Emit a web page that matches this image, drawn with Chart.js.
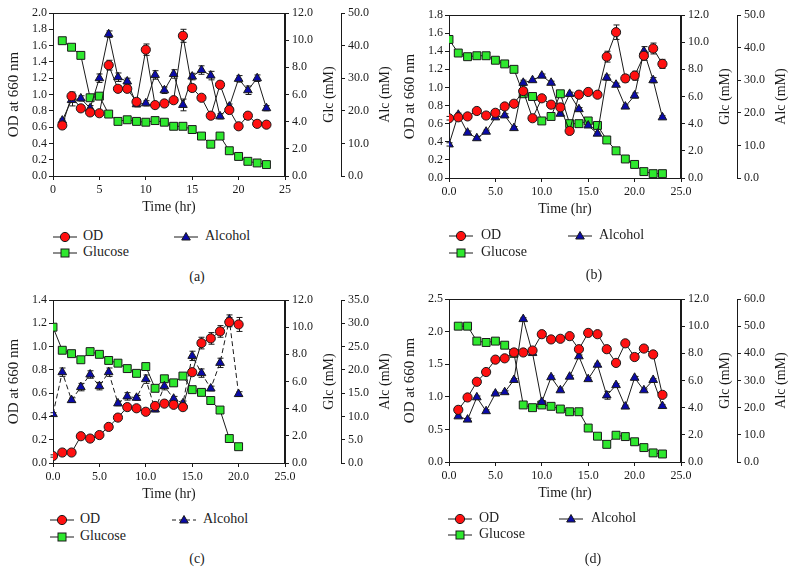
<!DOCTYPE html>
<html>
<head>
<meta charset="utf-8">
<script src="https://cdn.jsdelivr.net/npm/chart.js@4.4.0/dist/chart.umd.min.js"></script>
<style>
  body { margin: 0; background: #fff; width: 795px; height: 585px; position: relative; overflow: hidden;
         font-family: "Liberation Serif", "Times New Roman", serif; color: #222; }
  canvas { position: absolute; }
  .lg { position: absolute; font-size: 14px; line-height: 16px; white-space: nowrap; }
  .lg svg { position: absolute; }
  .cap { position: absolute; font-size: 14px; transform: translate(-50%, -50%); }
</style>
</head>
<body>
<canvas id="chart-a" width="397" height="220" style="left:0px;top:0px"></canvas>
<canvas id="chart-b" width="397" height="220" style="left:396px;top:2px"></canvas>
<canvas id="chart-c" width="397" height="220" style="left:0px;top:287px"></canvas>
<canvas id="chart-d" width="397" height="220" style="left:396px;top:286px"></canvas>
<div id="legends"></div>

<script>
// Panel (a)
const timeA = [1,2,3,4,5,6,7,8,9,10,11,12,13,14,15,16,17,18,19,20,21,22,23];
const odA = [0.62,0.98,0.83,0.78,0.77,1.36,1.07,1.07,0.91,1.55,0.87,0.89,0.93,1.72,1.08,0.96,0.74,1.12,0.81,0.61,0.74,0.64,0.63];
const glcA = [9.96,9.48,8.88,5.76,5.88,4.56,4.02,4.14,4.02,3.96,4.08,3.96,3.66,3.66,3.42,2.94,2.34,2.94,1.86,1.44,1.08,0.96,0.84];
const alcA = [17.0,23.3,23.8,20.8,30.0,43.5,30.3,29.0,22.0,22.3,31.0,26.3,31.3,21.8,30.5,32.5,30.8,18.3,21.3,29.8,26.3,30.0,20.8];
const odErrA = [0.02,0.05,0.03,0.03,0.02,0.06,0.04,0.04,0.03,0.07,0.03,0.03,0.03,0.08,0.04,0.03,0.03,0.04,0.03,0.02,0.03,0.02,0.02];
const alcErrA = [0.5,1.8,0.8,0.8,1.3,1.0,1.3,1.0,0.8,0.8,1.3,1.0,1.3,1.8,1.0,1.3,1.3,0.8,0.8,1.0,1.3,1.0,0.8];

// Panel (b)
const timeB = [0,1,2,3,4,5,6,7,8,9,10,11,12,13,14,15,16,17,18,19,20,21,22,23];
const odB = [0.66,0.67,0.68,0.74,0.69,0.72,0.79,0.82,0.96,0.66,0.88,0.81,0.78,0.52,0.92,0.95,0.92,1.34,1.61,1.10,1.13,1.35,1.43,1.26];
const glcB = [10.2,9.2,8.93,9.0,9.0,8.67,8.4,8.0,6.2,6.0,4.2,4.53,6.2,4.0,4.0,4.2,3.87,2.8,2.0,1.4,1.0,0.47,0.32,0.32];
const alcB = [10.3,19.4,13.9,12.2,14.2,18.6,19.2,15.3,29.2,30.0,31.4,29.2,19.7,25.8,21.1,16.1,13.6,30.8,28.6,21.9,25.3,38.9,30.0,18.6];
const odErrB = [0.02,0.02,0.02,0.02,0.02,0.02,0.02,0.02,0.04,0.02,0.02,0.02,0.02,0.02,0.02,0.02,0.02,0.06,0.08,0.04,0.05,0.05,0.06,0.05];
const alcErrB = [0.5,0.5,0.5,0.5,0.5,0.5,0.5,0.5,0.8,0.5,0.5,0.5,0.5,0.5,0.5,0.5,0.5,0.8,0.5,0.5,0.8,1.4,0.8,0.5];

// Panel (c)
const timeC = [0,1,2,3,4,5,6,7,8,9,10,11,12,13,14,15,16,17,18,19,20];
const odC = [0.06,0.09,0.09,0.23,0.21,0.24,0.31,0.39,0.48,0.47,0.44,0.49,0.51,0.50,0.48,0.78,1.03,1.07,1.13,1.21,1.19];
const glcC = [10.0,8.3,8.05,7.6,8.2,8.0,7.55,7.35,6.95,6.6,7.1,5.5,6.2,5.9,6.4,5.4,5.2,4.6,3.9,1.8,1.2];
const alcC = [10.5,19.5,13.5,16.3,19.0,16.5,19.5,12.8,14.3,14.0,18.0,11.5,16.5,13.8,12.8,23.0,19.3,16.0,21.5,30.8,14.8];
const odErrC = [0.01,0.01,0.01,0.01,0.01,0.01,0.01,0.01,0.01,0.01,0.01,0.02,0.01,0.01,0.01,0.02,0.05,0.05,0.05,0.04,0.06];
const alcErrC = [0.3,0.9,0.5,0.8,0.8,0.8,0.9,0.5,0.8,0.5,0.9,0.5,0.8,0.5,0.5,1.0,0.9,0.5,1.0,1.0,0.5];

// Panel (d)
const timeD = [1,2,3,4,5,6,7,8,9,10,11,12,13,14,15,16,17,18,19,20,21,22,23];
const odD = [0.80,0.99,1.23,1.38,1.57,1.59,1.68,1.68,1.71,1.96,1.88,1.89,1.93,1.73,1.98,1.96,1.73,1.52,1.82,1.61,1.74,1.65,1.03];
const glcD = [10.0,10.0,8.9,8.8,8.9,8.6,8.0,4.2,4.0,4.2,4.1,3.9,3.7,3.7,2.5,1.9,1.3,1.97,1.87,1.49,1.06,0.67,0.59];
const alcD = [16.8,15.6,23.8,18.7,25.2,25.7,30.2,52.6,40.1,22.1,31.2,26.4,31.4,38.9,30.5,35.8,24.5,28.3,20.4,31.0,26.4,30.2,20.6];
const alcErrD = [0.5,0.5,0.5,0.5,0.5,0.5,0.5,0.5,0.5,0.5,0.5,0.5,0.5,0.5,0.5,0.5,1.4,0.5,0.5,0.5,0.5,0.5,0.5];

// axis ranges: [min, max, step]
const odRange = { a: [0, 2.0, 0.2], b: [0, 1.8, 0.2], c: [0, 1.4, 0.2], d: [0, 2.5, 0.5] };
const alcRange = { a: [0, 50, 10], b: [0, 50, 10], c: [0, 35, 5], d: [0, 60, 10] };
const glcRange = [0, 12, 2];

const FONT = '"Liberation Serif", "Times New Roman", serif';
const RED = '#ff1010', GREEN = '#2ee82e', BLUE = '#0a0aa8', INK = '#1a1a1a';

function pts(xs, ys) { return xs.map((x, i) => ({ x: x, y: ys[i] })); }

// box around the plot area
const framePlugin = {
    id: 'frame',
    beforeDatasetsDraw(chart) {
        const a = chart.chartArea, ctx = chart.ctx;
        ctx.save();
        ctx.strokeStyle = INK;
        ctx.lineWidth = 1;
        ctx.strokeRect(Math.round(a.left) + 0.5, Math.round(a.top) + 0.5,
                       Math.round(a.right - a.left) - 1, Math.round(a.bottom - a.top));
        ctx.restore();
    }
};

// error bars, drawn under the markers
const errorBarPlugin = {
    id: 'errbars',
    beforeDatasetsDraw(chart) {
        const ctx = chart.ctx;
        ctx.save();
        ctx.strokeStyle = INK;
        ctx.lineWidth = 1;
        chart.data.datasets.forEach((ds, i) => {
            if (!ds.errors) return;
            const meta = chart.getDatasetMeta(i);
            const ys = chart.scales[meta.yAxisID];
            meta.data.forEach((el, j) => {
                const e = ds.errors[j];
                if (!e) return;
                const v = ds.data[j].y;
                const x = Math.round(el.x) + 0.5;
                const t = ys.getPixelForValue(v + e), b = ys.getPixelForValue(v - e);
                ctx.beginPath();
                ctx.moveTo(x, t); ctx.lineTo(x, b);
                ctx.moveTo(x - 3, t); ctx.lineTo(x + 3, t);
                ctx.moveTo(x - 3, b); ctx.lineTo(x + 3, b);
                ctx.stroke();
            });
        });
        ctx.restore();
    }
};

// right-hand titles read bottom to top
const sideTitlePlugin = {
    id: 'sideTitles',
    afterDraw(chart, args, opts) {
        const ctx = chart.ctx;
        ctx.save();
        ctx.fillStyle = INK;
        ctx.font = '14px ' + FONT;
        ctx.textAlign = 'center';
        ctx.textBaseline = 'middle';
        Object.keys(opts.titles || {}).forEach(id => {
            const s = chart.scales[id];
            const cy = (s.top + s.bottom) / 2;
            ctx.save();
            ctx.translate(s.right - 12, cy);
            ctx.rotate(-Math.PI / 2);
            ctx.fillText(opts.titles[id], 0, 0);
            ctx.restore();
        });
        ctx.restore();
    }
};

function axisBase(pos, width) {
    return {
        position: pos,
        grid: { drawOnChartArea: false, drawTicks: true, tickLength: 4, color: INK },
        border: { display: true, color: INK, width: 1 },
        ticks: { color: INK, font: { family: FONT, size: 12 }, padding: 3, autoSkip: false,
                 callback: v => Number(v).toFixed(1) },
        afterFit: s => { s.width = width; }
    };
}

function makePanel(id, key, time, od, glc, alc, errs, intTime, dashedAlc) {
    const y = axisBase('left', 53);
    y.min = odRange[key][0]; y.max = odRange[key][1]; y.ticks.stepSize = odRange[key][2];
    y.ticks.padding = 2;
    y.title = { display: true, text: 'OD at 660 nm', color: INK, font: { family: FONT, size: 15 }, padding: { top: 5, bottom: 0 } };

    const yGlc = axisBase('right', 56);
    yGlc.min = glcRange[0]; yGlc.max = glcRange[1]; yGlc.ticks.stepSize = glcRange[2];

    const yAlc = axisBase('right', 56);
    yAlc.min = alcRange[key][0]; yAlc.max = alcRange[key][1]; yAlc.ticks.stepSize = alcRange[key][2];

    const x = {
        type: 'linear', position: 'bottom', min: 0, max: 25,
        grid: { drawOnChartArea: false, drawTicks: true, tickLength: 4, color: INK },
        border: { display: true, color: INK, width: 1 },
        ticks: { stepSize: 5, color: INK, font: { family: FONT, size: 12 }, padding: 3, maxRotation: 0, autoSkip: false,
                 callback: v => intTime ? String(v) : Number(v).toFixed(1) },
        title: { display: true, text: 'Time (hr)', color: INK, font: { family: FONT, size: 14 }, padding: { top: 0, bottom: 4 } },
        afterFit: s => { s.height = 44; }
    };

    const common = { borderColor: INK, borderWidth: 1, tension: 0, pointBorderColor: INK, pointBorderWidth: 1, pointHoverRadius: 5, fill: false };

    new Chart(document.getElementById(id), {
        type: 'line',
        data: {
            datasets: [
                Object.assign({}, common, { label: 'OD', data: pts(time, od), yAxisID: 'y', errors: errs.od,
                    pointStyle: 'circle', pointRadius: 4.6, pointBackgroundColor: RED }),
                Object.assign({}, common, { label: 'Alcohol', data: pts(time, alc), yAxisID: 'yAlc', errors: errs.alc,
                    pointStyle: 'triangle', pointRadius: 5, pointBackgroundColor: BLUE, borderDash: dashedAlc ? [5, 3] : [] }),
                Object.assign({}, common, { label: 'Glucose', data: pts(time, glc), yAxisID: 'yGlc',
                    pointStyle: 'rect', pointRadius: 5.6, pointBackgroundColor: GREEN })
            ]
        },
        options: {
            responsive: false, animation: false, devicePixelRatio: 1,
            layout: { padding: { top: 13, left: 0, right: 0, bottom: 0 } },
            plugins: { legend: { display: false }, tooltip: { enabled: false },
                       sideTitles: { titles: { yGlc: 'Glc (mM)', yAlc: 'Alc (mM)' } } },
            scales: { x: x, y: y, yGlc: yGlc, yAlc: yAlc }
        },
        plugins: [framePlugin, errorBarPlugin, sideTitlePlugin]
    });
}

makePanel('chart-a', 'a', timeA, odA, glcA, alcA, { od: odErrA, alc: alcErrA }, true, false);
makePanel('chart-b', 'b', timeB, odB, glcB, alcB, { od: odErrB, alc: alcErrB }, false, false);
makePanel('chart-c', 'c', timeC, odC, glcC, alcC, { od: odErrC, alc: alcErrC }, false, true);
makePanel('chart-d', 'd', timeD, odD, glcD, alcD, { od: null, alc: alcErrD }, false, false);

// HTML legends + captions
const legendSpots = [
    { cap: '(a)', sym: 53, txt: 83, alcSym: 174, alcTxt: 205, row1: 237, row2: 253, capX: 197, capY: 277, dashed: false },
    { cap: '(b)', sym: 449, txt: 481, alcSym: 568, alcTxt: 599, row1: 236, row2: 253, capX: 594, capY: 275, dashed: false },
    { cap: '(c)', sym: 50, txt: 80, alcSym: 172, alcTxt: 203, row1: 520, row2: 537, capX: 197, capY: 559, dashed: true },
    { cap: '(d)', sym: 448, txt: 479, alcSym: 559, alcTxt: 591, row1: 519, row2: 535, capX: 593, capY: 559, dashed: false }
];

function symbol(kind, dashed) {
    const dash = dashed ? ' stroke-dasharray="4,3"' : '';
    let mark = '';
    if (kind === 'circle') mark = `<circle cx="12" cy="6" r="4.6" fill="${RED}" stroke="${INK}" stroke-width="1"/>`;
    if (kind === 'rect') mark = `<rect x="8" y="2" width="8" height="8" fill="${GREEN}" stroke="${INK}" stroke-width="1"/>`;
    if (kind === 'triangle') mark = `<polygon points="12,1.5 16.3,9 7.7,9" fill="${BLUE}" stroke="${INK}" stroke-width="1"/>`;
    return `<svg width="24" height="12" viewBox="0 0 24 12"><line x1="0" y1="6" x2="24" y2="6" stroke="${INK}" stroke-width="1"${dash}/>${mark}</svg>`;
}

const host = document.getElementById('legends');
legendSpots.forEach(L => {
    const items = [
        { kind: 'circle', label: 'OD', sx: L.sym, tx: L.txt, y: L.row1, dashed: false },
        { kind: 'triangle', label: 'Alcohol', sx: L.alcSym, tx: L.alcTxt, y: L.row1, dashed: L.dashed },
        { kind: 'rect', label: 'Glucose', sx: L.sym, tx: L.txt, y: L.row2, dashed: false }
    ];
    items.forEach(it => {
        const s = document.createElement('div');
        s.className = 'lg';
        s.style.left = it.sx + 'px';
        s.style.top = (it.y - 6) + 'px';
        s.innerHTML = symbol(it.kind, it.dashed);
        host.appendChild(s);
        const t = document.createElement('div');
        t.className = 'lg';
        t.style.left = it.tx + 'px';
        t.style.top = (it.y - 9) + 'px';
        t.textContent = it.label;
        host.appendChild(t);
    });
    const c = document.createElement('div');
    c.className = 'cap';
    c.style.left = L.capX + 'px';
    c.style.top = L.capY + 'px';
    c.textContent = L.cap;
    host.appendChild(c);
});
</script>
</body>
</html>
